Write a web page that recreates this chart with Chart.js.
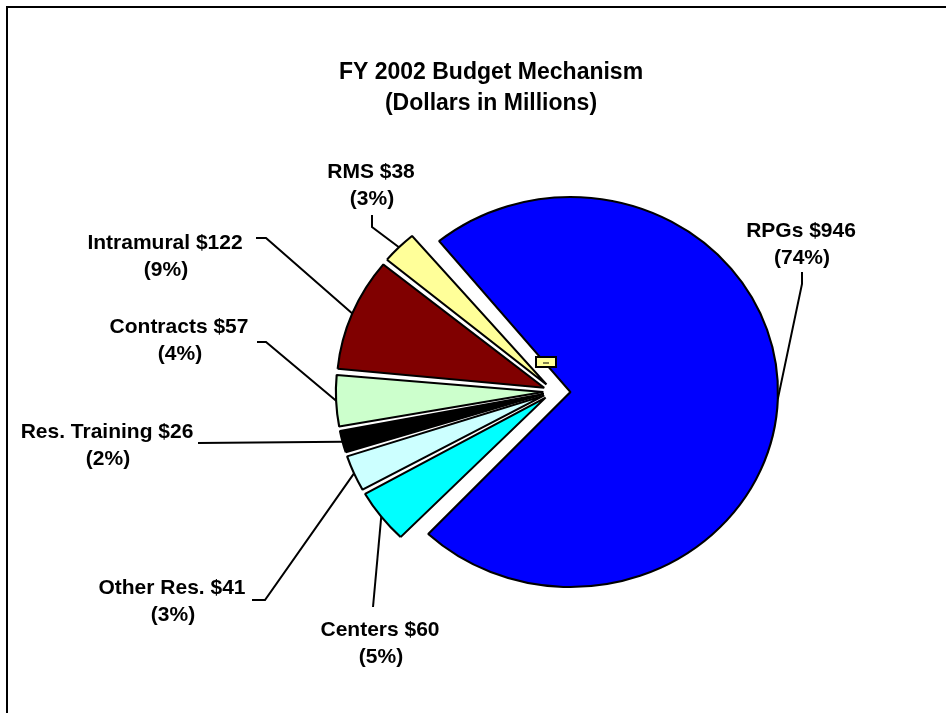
<!DOCTYPE html>
<html>
<head>
<meta charset="utf-8">
<title>FY 2002 Budget Mechanism</title>
<script src="https://cdn.jsdelivr.net/npm/chart.js@4.4.1/dist/chart.umd.min.js"></script>
<style>
  html, body { margin: 0; padding: 0; background: #fff; }
  #wrap { position: relative; width: 951px; height: 713px; }
</style>
</head>
<body>
<div id="wrap"><canvas id="budgetChart" width="951" height="713"></canvas></div>
<script>
// chart data (dollars in millions)
const categories = ['RPGs', 'Centers', 'Other Res.', 'Res. Training', 'Contracts', 'Intramural', 'RMS', ''];
const amounts = [946, 60, 41, 26, 57, 122, 38, 0];
const percentLabels = ['(74%)', '(5%)', '(3%)', '(2%)', '(4%)', '(9%)', '(3%)', ''];

// styling
const sliceColors = ['#0000ff', '#00ffff', '#ccffff', '#000000', '#ccffcc', '#800000', '#ffff99', '#ffff99'];
const explode = [15.5, 10, 10, 10, 10, 10, 10, 0]; // pull-out of each slice, px
const pieRadius = 195;
const stretchX = 1.064; // the original pie is a little wider than tall

// label layout: text centre and the elbow points of each leader line
const labelSpots = [
  { x: 801, y: 231, pts: [[802, 272], [802, 284]] },
  { x: 380, y: 630, pts: [[373, 607]] },
  { x: 172, y: 588, pts: [[252, 600], [265, 600]] },
  { x: 107, y: 432, pts: [[198, 443]] },
  { x: 179, y: 327, pts: [[257, 342], [266, 342]] },
  { x: 165, y: 243, pts: [[256, 238], [266, 238]] },
  { x: 371, y: 172, pts: [[372, 215], [372, 227]] },
  { x: 546, y: 362, box: true }
];

const stretchPlugin = {
  id: 'stretch',
  beforeDatasetsDraw(chart) {
    const arcs = chart.getDatasetMeta(0).data;
    // Chart.js also grows an offset arc's radius; undo that so every slice keeps the same size
    arcs.forEach(arc => {
      const o = (arc.options.offset || 0) / 4;
      const fix = 1 - Math.sin(Math.min(Math.PI, arc.circumference || 0));
      arc.outerRadius = pieRadius - o * fix;
    });
    const ctx = chart.ctx;
    ctx.save();
    ctx.translate(arcs[0].x, arcs[0].y);
    ctx.scale(stretchX, 1);
    ctx.translate(-arcs[0].x, -arcs[0].y);
  },
  afterDatasetsDraw(chart) {
    chart.ctx.restore();
  }
};

const overlayPlugin = {
  id: 'overlay',
  afterDraw(chart) {
    const ctx = chart.ctx;
    const arcs = chart.getDatasetMeta(0).data;
    ctx.save();

    // frame (only top and left edges show)
    ctx.strokeStyle = '#000';
    ctx.lineWidth = 2;
    ctx.beginPath();
    ctx.moveTo(7, 713);
    ctx.lineTo(7, 7);
    ctx.lineTo(946, 7);
    ctx.stroke();

    // title
    ctx.fillStyle = '#000';
    ctx.textAlign = 'center';
    ctx.textBaseline = 'middle';
    ctx.font = 'bold 23px "Liberation Sans", Arial, sans-serif';
    ctx.fillText('FY 2002 Budget Mechanism', 491, 73);
    ctx.fillText('(Dollars in Millions)', 491, 104);

    ctx.font = 'bold 21px "Liberation Sans", Arial, sans-serif';
    arcs.forEach((arc, i) => {
      const spot = labelSpots[i];
      if (spot.box) {
        ctx.fillStyle = sliceColors[i];
        ctx.fillRect(spot.x - 10, spot.y - 5, 20, 10);
        ctx.strokeRect(spot.x - 10, spot.y - 5, 20, 10);
        ctx.beginPath();
        ctx.moveTo(spot.x - 3, spot.y + 1);
        ctx.lineTo(spot.x + 3, spot.y + 1);
        ctx.lineWidth = 1;
        ctx.stroke();
        ctx.lineWidth = 2;
        return;
      }
      // leader end: outer edge of the slice at its middle angle
      const mid = (arc.startAngle + arc.endAngle) / 2;
      const r = pieRadius + explode[i];
      const ex = arc.x + Math.cos(mid) * r * stretchX;
      const ey = arc.y + Math.sin(mid) * r;
      ctx.strokeStyle = '#000';
      ctx.lineWidth = 2;
      ctx.beginPath();
      ctx.moveTo(spot.pts[0][0], spot.pts[0][1]);
      spot.pts.slice(1).forEach(p => ctx.lineTo(p[0], p[1]));
      ctx.lineTo(ex, ey);
      ctx.stroke();

      ctx.fillStyle = '#000';
      ctx.fillText(categories[i] + ' $' + amounts[i], spot.x, spot.y);
      ctx.fillText(percentLabels[i], spot.x + 1, spot.y + 27);
    });
    ctx.restore();
  }
};

new Chart(document.getElementById('budgetChart'), {
  type: 'pie',
  data: {
    labels: categories,
    datasets: [{
      data: amounts,
      backgroundColor: sliceColors,
      borderColor: '#000',
      borderWidth: 2,
      offset: explode.map(d => d * 4),
      hoverOffset: 0
    }]
  },
  options: {
    responsive: false,
    animation: false,
    events: [],
    rotation: -40,
    radius: pieRadius,
    layout: { padding: { left: 354, right: 197, top: 196, bottom: 126 } },
    plugins: {
      legend: { display: false },
      title: { display: false },
      tooltip: { enabled: false }
    }
  },
  plugins: [stretchPlugin, overlayPlugin]
});
</script>
</body>
</html>
